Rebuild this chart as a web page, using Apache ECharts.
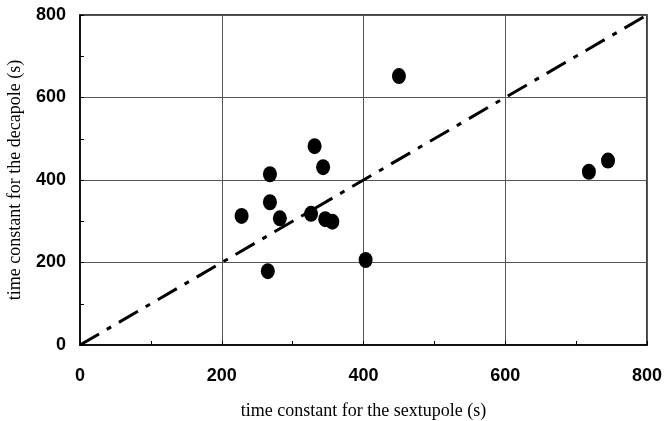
<!DOCTYPE html>
<html>
<head>
<meta charset="utf-8">
<script src="https://cdn.jsdelivr.net/npm/echarts@6/dist/echarts.min.js"></script>
<style>
  html, body { margin: 0; padding: 0; background: #fff; }
  #chart { width: 665px; height: 421px; }
</style>
</head>
<body>
<div id="chart"></div>
<script>
// sextupole vs decapole time constants (s)
var sextupole = [228, 265, 268, 268, 282, 326, 331, 343, 346, 356, 403, 450, 718, 745];
var decapole  = [313, 179, 346, 414, 307, 318, 482, 431, 305, 299, 206, 652, 420, 447];
var diagonal = [[0, 0], [800, 800]];

var points = sextupole.map(function (x, i) { return [x, decapole[i]]; });

var chart = echarts.init(document.getElementById('chart'));

var axisCommon = {
    min: 0,
    max: 800,
    interval: 200,
    axisLine: { lineStyle: { color: '#000', width: 1.5 } },
    axisTick: { show: true, inside: true, length: 4, lineStyle: { color: '#000', width: 1 } },
    minorTick: { show: true, splitNumber: 2, length: 4, lineStyle: { color: '#000', width: 1 } },
    splitLine: { show: true, lineStyle: { color: '#555', width: 1 } },
    axisLabel: { color: '#000', fontFamily: 'Liberation Sans', fontSize: 18, fontWeight: 'bold' },
    nameTextStyle: { color: '#000', fontFamily: 'Liberation Serif', fontSize: 18 }
};

chart.setOption({
    animation: false,
    grid: {
        left: 80, right: 18, top: 15, bottom: 76,
        outerBoundsMode: 'none',
        containLabel: false,
        show: true,
        borderColor: '#000',
        borderWidth: 1.5
    },
    xAxis: Object.assign({}, axisCommon, {
        type: 'value',
        name: 'time constant for the sextupole (s)',
        nameLocation: 'middle',
        nameGap: 57,
        axisLabel: Object.assign({}, axisCommon.axisLabel, { margin: 22 })
    }),
    yAxis: Object.assign({}, axisCommon, {
        type: 'value',
        name: 'time constant for the decapole (s)',
        nameLocation: 'middle',
        nameGap: 56,
        axisLabel: Object.assign({}, axisCommon.axisLabel, { margin: 14 })
    }),
    series: [
        {
            type: 'line',
            data: diagonal,
            symbol: 'none',
            lineStyle: { color: '#000', width: 3, type: [22, 9, 5, 9] },
            z: 2
        },
        {
            type: 'scatter',
            data: points,
            symbol: 'circle',
            symbolSize: [14, 16],
            itemStyle: { color: '#000', opacity: 1 },
            z: 3
        }
    ]
});
</script>
</body>
</html>
